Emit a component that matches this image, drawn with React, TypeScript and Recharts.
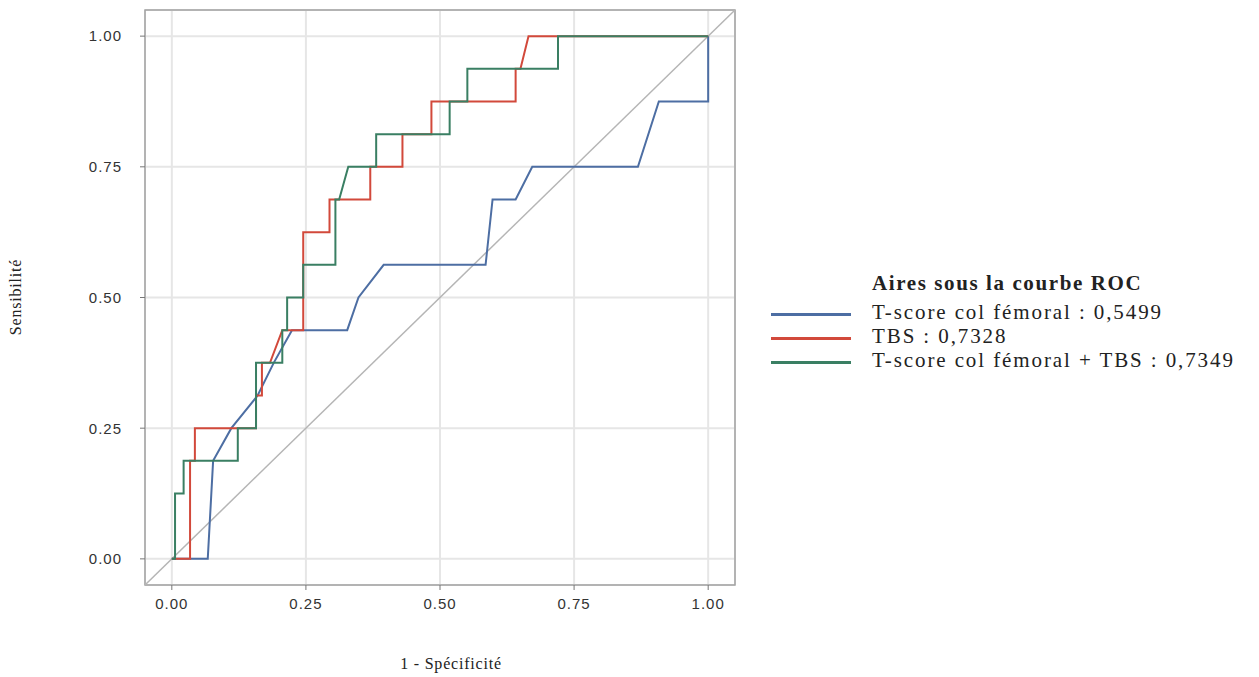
import {
  CartesianGrid,
  Label,
  Legend,
  Line,
  LineChart,
  ReferenceArea,
  ReferenceLine,
  XAxis,
  YAxis,
} from "recharts";

// axis ticks shared by both axes
const axisTicks = [0, 0.25, 0.5, 0.75, 1];

// T-score col fémoral
const tscoreFpr = [0, 0.067, 0.077, 0.111, 0.16, 0.19, 0.224, 0.327, 0.348, 0.395, 0.585, 0.598, 0.641, 0.672, 0.869, 0.908, 1, 1];
const tscoreSens = [0, 0, 0.1875, 0.25, 0.3125, 0.375, 0.4375, 0.4375, 0.5, 0.5625, 0.5625, 0.6875, 0.6875, 0.75, 0.75, 0.875, 0.875, 1];

// TBS
const tbsFpr = [0, 0.034, 0.034, 0.043, 0.043, 0.157, 0.157, 0.168, 0.168, 0.183, 0.206, 0.245, 0.245, 0.294, 0.294, 0.37, 0.37, 0.43, 0.43, 0.484, 0.484, 0.641, 0.641, 0.65, 0.665, 1];
const tbsSens = [0, 0, 0.1875, 0.1875, 0.25, 0.25, 0.3125, 0.3125, 0.375, 0.375, 0.4375, 0.4375, 0.625, 0.625, 0.6875, 0.6875, 0.75, 0.75, 0.8125, 0.8125, 0.875, 0.875, 0.9375, 0.9375, 1, 1];

// T-score col fémoral + TBS
const comboFpr = [0, 0.006, 0.006, 0.022, 0.022, 0.123, 0.123, 0.157, 0.157, 0.206, 0.206, 0.215, 0.215, 0.245, 0.245, 0.305, 0.305, 0.312, 0.329, 0.381, 0.381, 0.518, 0.518, 0.551, 0.551, 0.72, 0.72, 1];
const comboSens = [0, 0, 0.125, 0.125, 0.1875, 0.1875, 0.25, 0.25, 0.375, 0.375, 0.4375, 0.4375, 0.5, 0.5, 0.5625, 0.5625, 0.6875, 0.6875, 0.75, 0.75, 0.8125, 0.8125, 0.875, 0.875, 0.9375, 0.9375, 1, 1];

const legendTitle = "Aires sous la courbe ROC";

type Pt = { x: number; y: number };
const zip = (xs: number[], ys: number[]): Pt[] => xs.map((x, i) => ({ x, y: ys[i] }));

const series = [
  { key: "tscore", label: "T-score col fémoral : 0,5499", color: "#4d6ea3", data: zip(tscoreFpr, tscoreSens) },
  { key: "tbs", label: "TBS : 0,7328", color: "#d2493b", data: zip(tbsFpr, tbsSens) },
  { key: "combo", label: "T-score col fémoral + TBS : 0,7349", color: "#3a7f63", data: zip(comboFpr, comboSens) },
];

const serif = '"Liberation Serif", "Times New Roman", serif';
const sans = '"Liberation Sans", Arial, sans-serif';

function RocLegend() {
  return (
    <div style={{ fontFamily: serif, fontSize: 21, color: "#222", letterSpacing: 1.9 }}>
      <div style={{ marginLeft: 101, fontWeight: "bold", lineHeight: "24px", marginBottom: 5, letterSpacing: 1.6 }}>
        {legendTitle}
      </div>
      {series.map((s) => (
        <div key={s.key} style={{ display: "flex", alignItems: "center", height: 24, whiteSpace: "nowrap" }}>
          <span style={{ width: 80, height: 3, background: s.color, marginRight: 21, marginTop: 4 }} />
          <span>{s.label}</span>
        </div>
      ))}
    </div>
  );
}

export default function App() {
  return (
    <div style={{ position: "absolute", left: 0, top: 0, width: 1259, height: 677, background: "#fff" }}>
      <LineChart width={1259} height={677} margin={{ top: 10, right: 524, bottom: 0, left: 0 }}>
        <CartesianGrid stroke="#e6e6e6" strokeWidth={2} />
        <XAxis
          type="number"
          dataKey="x"
          domain={[-0.05, 1.05]}
          ticks={axisTicks}
          allowDataOverflow
          height={92}
          axisLine={false}
          tickSize={5}
          tickMargin={8}
          tickLine={{ stroke: "#777" }}
          tick={{ fill: "#333", fontSize: 15, fontFamily: sans, letterSpacing: 1 }}
          tickFormatter={(v: number) => v.toFixed(2)}
        >
          <Label
            content={() => (
              <text x={451} y={663} textAnchor="middle" dominantBaseline="central" fontFamily={serif} fontSize={16} letterSpacing={0.8} fill="#222">
                1 - Spécificité
              </text>
            )}
          />
        </XAxis>
        <YAxis
          type="number"
          domain={[-0.05, 1.05]}
          ticks={axisTicks}
          allowDataOverflow
          width={145}
          axisLine={false}
          tickSize={5}
          tickMargin={18}
          tickLine={{ stroke: "#777" }}
          tick={{ fill: "#333", fontSize: 15, fontFamily: sans, letterSpacing: 1 }}
          tickFormatter={(v: number) => v.toFixed(2)}
        >
          <Label
            content={() => (
              <text
                x={0}
                y={0}
                transform="translate(15,297) rotate(-90)"
                textAnchor="middle"
                dominantBaseline="central"
                fontFamily={serif}
                fontSize={16}
                letterSpacing={0.8}
                fill="#222"
              >
                Sensibilité
              </text>
            )}
          />
        </YAxis>
        <ReferenceLine
          segment={[
            { x: -0.05, y: -0.05 },
            { x: 1.05, y: 1.05 },
          ]}
          stroke="#b5b5b5"
          strokeWidth={1.5}
          ifOverflow="visible"
        />
        {series.map((s) => (
          <Line
            key={s.key}
            data={s.data}
            dataKey="y"
            name={s.label}
            type="linear"
            stroke={s.color}
            strokeWidth={2}
            dot={false}
            activeDot={false}
            isAnimationActive={false}
          />
        ))}
        <ReferenceArea
          x1={-0.05}
          x2={1.05}
          y1={-0.05}
          y2={1.05}
          fill="none"
          fillOpacity={0}
          stroke="#a3a3a3"
          strokeWidth={1.5}
          ifOverflow="visible"
        />
        <Legend
          layout="vertical"
          align="center"
          verticalAlign="middle"
          content={() => <RocLegend />}
          wrapperStyle={{ left: 771, top: 271, width: 480 }}
        />
      </LineChart>
    </div>
  );
}
